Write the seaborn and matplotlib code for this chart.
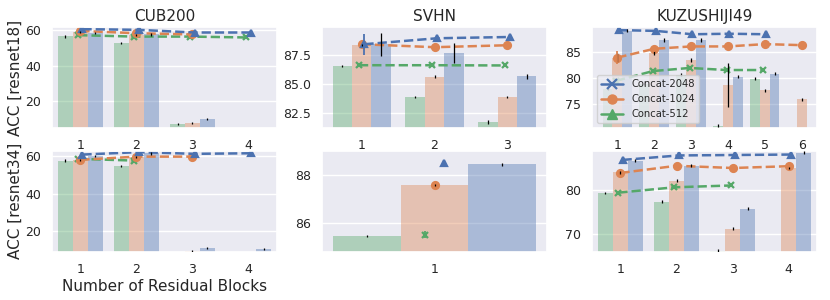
import numpy as np
import pandas as pd
import matplotlib
matplotlib.use("Agg")
import matplotlib.pyplot as plt
import seaborn as sns
from matplotlib.lines import Line2D

sns.set_theme(style="darkgrid")
plt.rcParams["font.family"] = ["DejaVu Sans"]

nan = np.nan

# ---------------- data ----------------
dims = ["512", "1024", "2048"]
legend_labels = ["Concat-2048", "Concat-1024", "Concat-512"]
titles = ["CUB200", "SVHN", "KUZUSHIJI49"]
ylabels = ["ACC [resnet18]", "ACC [resnet34]"]
xlabel = "Number of Residual Blocks"

# resnet18 / CUB200
cub18_blocks = ["1", "2", "3", "4"]
cub18_bar_512 = [56.5, 52.8, 7.2, 3.0]
cub18_bar_1024 = [58.8, 57.5, 7.6, 3.0]
cub18_bar_2048 = [58.6, 57.6, 10.0, 3.5]
cub18_err_512 = [0.7, 0.7, 0.6, 2.0]
cub18_err_1024 = [0.6, 0.6, 0.6, 0.5]
cub18_err_2048 = [0.6, 0.6, 0.7, 1.6]
cub18_pt_512 = [57.2, 56.4, 56.4, 55.9]
cub18_pt_1024 = [59.6, 58.3, 57.6, nan]
cub18_pt_2048 = [60.6, 60.2, 58.7, 58.7]

# resnet18 / SVHN
svhn18_blocks = ["1", "2", "3"]
svhn18_bar_512 = [86.52, 83.85, 81.69]
svhn18_bar_1024 = [88.39, 85.63, 83.85]
svhn18_bar_2048 = [88.45, 87.67, 85.66]
svhn18_err_512 = [0.08, 0.08, 0.15]
svhn18_err_1024 = [0.08, 0.1, 0.08]
svhn18_err_2048 = [1.0, 0.87, 0.2]
svhn18_pt_512 = [86.62, 86.62, 86.6]
svhn18_pt_1024 = [88.45, 88.19, 88.36]
svhn18_pt_2048 = [88.45, 88.97, 89.08]
svhn18_pterr_2048 = [0.9, 0.0, 0.0]

# resnet18 / KUZUSHIJI49
kuzu18_blocks = ["1", "2", "3", "4", "5", "6"]
kuzu18_bar_512 = [78.0, 79.0, 80.7, 70.9, 79.9, nan]
kuzu18_bar_1024 = [84.0, 84.9, 83.5, 78.7, 77.7, 75.95]
kuzu18_bar_2048 = [89.2, 87.4, 87.4, 80.3, 80.9, nan]
kuzu18_err_512 = [0.3, 0.3, 0.3, 0.3, 0.3, 0.0]
kuzu18_err_1024 = [0.8, 0.4, 0.4, 4.2, 0.3, 0.3]
kuzu18_err_2048 = [0.3, 0.4, 0.4, 0.3, 0.3, 0.0]
kuzu18_pt_512 = [79.5, 81.4, 82.0, 81.6, 81.6, nan]
kuzu18_pt_1024 = [84.0, 85.7, 86.15, 86.15, 86.6, 86.4]
kuzu18_pt_2048 = [89.3, 89.15, 88.5, 88.6, 88.5, nan]
kuzu18_pterr_1024 = [1.2, 0.6, 0.0, 0.0, 0.0, 0.0]

# resnet34 / CUB200
cub34_blocks = ["1", "2", "3", "4"]
cub34_bar_512 = [57.7, 54.7, nan, nan]
cub34_bar_1024 = [58.0, 59.8, 9.2, nan]
cub34_bar_2048 = [60.2, 61.5, 11.1, 10.6]
cub34_err_512 = [0.6, 0.6, 0.0, 0.0]
cub34_err_1024 = [0.6, 0.6, 0.6, 0.0]
cub34_err_2048 = [0.6, 0.6, 0.6, 0.6]
cub34_pt_512 = [58.6, 57.7, nan, nan]
cub34_pt_1024 = [58.1, 59.8, 59.8, nan]
cub34_pt_2048 = [60.9, 62.2, 61.3, 61.6]

# resnet34 / SVHN
svhn34_blocks = ["1"]
svhn34_bar_512 = [85.44]
svhn34_bar_1024 = [87.58]
svhn34_bar_2048 = [88.43]
svhn34_err_512 = [0.05]
svhn34_err_1024 = [0.05]
svhn34_err_2048 = [0.05]
svhn34_pt_512 = [85.5]
svhn34_pt_1024 = [87.58]
svhn34_pt_2048 = [88.49]
svhn34_pterr_512 = [0.15]

# resnet34 / KUZUSHIJI49
kuzu34_blocks = ["1", "2", "3", "4"]
kuzu34_bar_512 = [79.2, 77.3, 66.4, nan]
kuzu34_bar_1024 = [83.8, 82.0, 71.3, 84.8]
kuzu34_bar_2048 = [86.4, 85.3, 75.7, 88.2]
kuzu34_err_512 = [0.3, 0.3, 0.3, 0.0]
kuzu34_err_1024 = [0.3, 0.3, 0.3, 0.3]
kuzu34_err_2048 = [0.3, 0.3, 0.3, 0.3]
kuzu34_pt_512 = [79.3, 80.5, 80.9, nan]
kuzu34_pt_1024 = [83.7, 85.3, 84.8, 85.2]
kuzu34_pt_2048 = [86.6, 87.6, 87.7, 87.8]

ylims = [[(4.7, 61.8), (81.12, 89.95), (70.35, 89.9)],
         [(8.8, 63.0), (84.78, 89.0), (66.07, 88.67)]]

panels = [
    [
        dict(blocks=cub18_blocks, bars=[cub18_bar_512, cub18_bar_1024, cub18_bar_2048],
             errs=[cub18_err_512, cub18_err_1024, cub18_err_2048],
             pts=[cub18_pt_512, cub18_pt_1024, cub18_pt_2048], pterrs={}),
        dict(blocks=svhn18_blocks, bars=[svhn18_bar_512, svhn18_bar_1024, svhn18_bar_2048],
             errs=[svhn18_err_512, svhn18_err_1024, svhn18_err_2048],
             pts=[svhn18_pt_512, svhn18_pt_1024, svhn18_pt_2048], pterrs={"2048": svhn18_pterr_2048}),
        dict(blocks=kuzu18_blocks, bars=[kuzu18_bar_512, kuzu18_bar_1024, kuzu18_bar_2048],
             errs=[kuzu18_err_512, kuzu18_err_1024, kuzu18_err_2048],
             pts=[kuzu18_pt_512, kuzu18_pt_1024, kuzu18_pt_2048], pterrs={"1024": kuzu18_pterr_1024}),
    ],
    [
        dict(blocks=cub34_blocks, bars=[cub34_bar_512, cub34_bar_1024, cub34_bar_2048],
             errs=[cub34_err_512, cub34_err_1024, cub34_err_2048],
             pts=[cub34_pt_512, cub34_pt_1024, cub34_pt_2048], pterrs={}),
        dict(blocks=svhn34_blocks, bars=[svhn34_bar_512, svhn34_bar_1024, svhn34_bar_2048],
             errs=[svhn34_err_512, svhn34_err_1024, svhn34_err_2048],
             pts=[svhn34_pt_512, svhn34_pt_1024, svhn34_pt_2048], pterrs={"512": svhn34_pterr_512}),
        dict(blocks=kuzu34_blocks, bars=[kuzu34_bar_512, kuzu34_bar_1024, kuzu34_bar_2048],
             errs=[kuzu34_err_512, kuzu34_err_1024, kuzu34_err_2048],
             pts=[kuzu34_pt_512, kuzu34_pt_1024, kuzu34_pt_2048], pterrs={}),
    ],
]

# ---------------- styling ----------------
deep = sns.color_palette("deep")
colors = {"512": deep[2], "1024": deep[1], "2048": deep[0]}
pal = [colors[d] for d in dims]
markers = ["x", "o", "^"]


def long_df(blocks, series, name):
    rows = []
    for d, vals in zip(dims, series):
        for b, v in zip(blocks, vals):
            if not np.isnan(v):
                rows.append({"blocks": b, "dim": d, name: v})
    return pd.DataFrame(rows)


fig, axes = plt.subplots(2, 3, figsize=(8.3, 3.0), dpi=100)
fig.subplots_adjust(left=0.063, right=0.984, top=0.91, bottom=0.16,
                    wspace=0.204, hspace=0.22)

for r in range(2):
    for c in range(3):
        ax = axes[r, c]
        p = panels[r][c]
        blocks = p["blocks"]

        bdf = long_df(blocks, p["bars"], "acc")
        sns.barplot(data=bdf, x="blocks", y="acc", hue="dim", order=blocks,
                    hue_order=dims, palette=pal, alpha=0.4, errorbar=None,
                    saturation=1, linewidth=0, legend=False, ax=ax)
        # error bars on bars
        for cont, d, vals, errs in zip(ax.containers, dims, p["bars"], p["errs"]):
            valid = [(v, e) for v, e in zip(vals, errs) if not np.isnan(v)]
            for bar, (v, e) in zip(cont, valid):
                xc = bar.get_x() + bar.get_width() / 2
                ax.errorbar([xc], [v], yerr=[e], fmt="none", ecolor="black",
                            elinewidth=0.9, capsize=0, zorder=3)

        n_lines_before = len(ax.lines)
        pdf = long_df(blocks, p["pts"], "acc")
        sns.pointplot(data=pdf, x="blocks", y="acc", hue="dim", order=blocks,
                      hue_order=dims, palette=pal, markers=markers,
                      linestyles="--", dodge=True, errorbar=None, legend=False,
                      linewidth=1.8, markersize=5, markeredgewidth=1.6, ax=ax)
        new_lines = ax.lines[n_lines_before:]
        for line, d, vals in zip(new_lines, dims, p["pts"]):
            if d in p["pterrs"]:
                perr = p["pterrs"][d]
                valid_err = [e for v, e in zip(vals, perr) if not np.isnan(v)]
                xs = line.get_xdata()
                ys = line.get_ydata()
                for xv, yv, e in zip(xs, ys, valid_err):
                    if e > 0:
                        ax.errorbar([xv], [yv], yerr=[e], fmt="none",
                                    ecolor=colors[d], elinewidth=1.3, capsize=0, zorder=4)

        ax.set_ylim(*ylims[r][c])
        ax.tick_params(axis="both", labelsize=9, pad=2)
        ax.set_xlabel(xlabel if (r == 1 and c == 0) else "", fontsize=11, labelpad=2)
        ax.set_ylabel(ylabels[r] if c == 0 else "", fontsize=11, labelpad=2)
        if r == 0:
            ax.set_title(titles[c], fontsize=11, pad=4)

# legend (top-right panel)
handles = [
    Line2D([], [], color=colors["2048"], marker="x", lw=1.8, markersize=6.5, markeredgewidth=1.6),
    Line2D([], [], color=colors["1024"], marker="o", lw=1.8, markersize=6.5),
    Line2D([], [], color=colors["512"], marker="^", lw=1.8, markersize=6.5),
]
axes[0, 2].legend(handles, legend_labels, loc="lower left", fontsize=7.2,
                  handlelength=2.2, borderpad=0.4, labelspacing=0.5)

fig.savefig("out.png", dpi=100)
